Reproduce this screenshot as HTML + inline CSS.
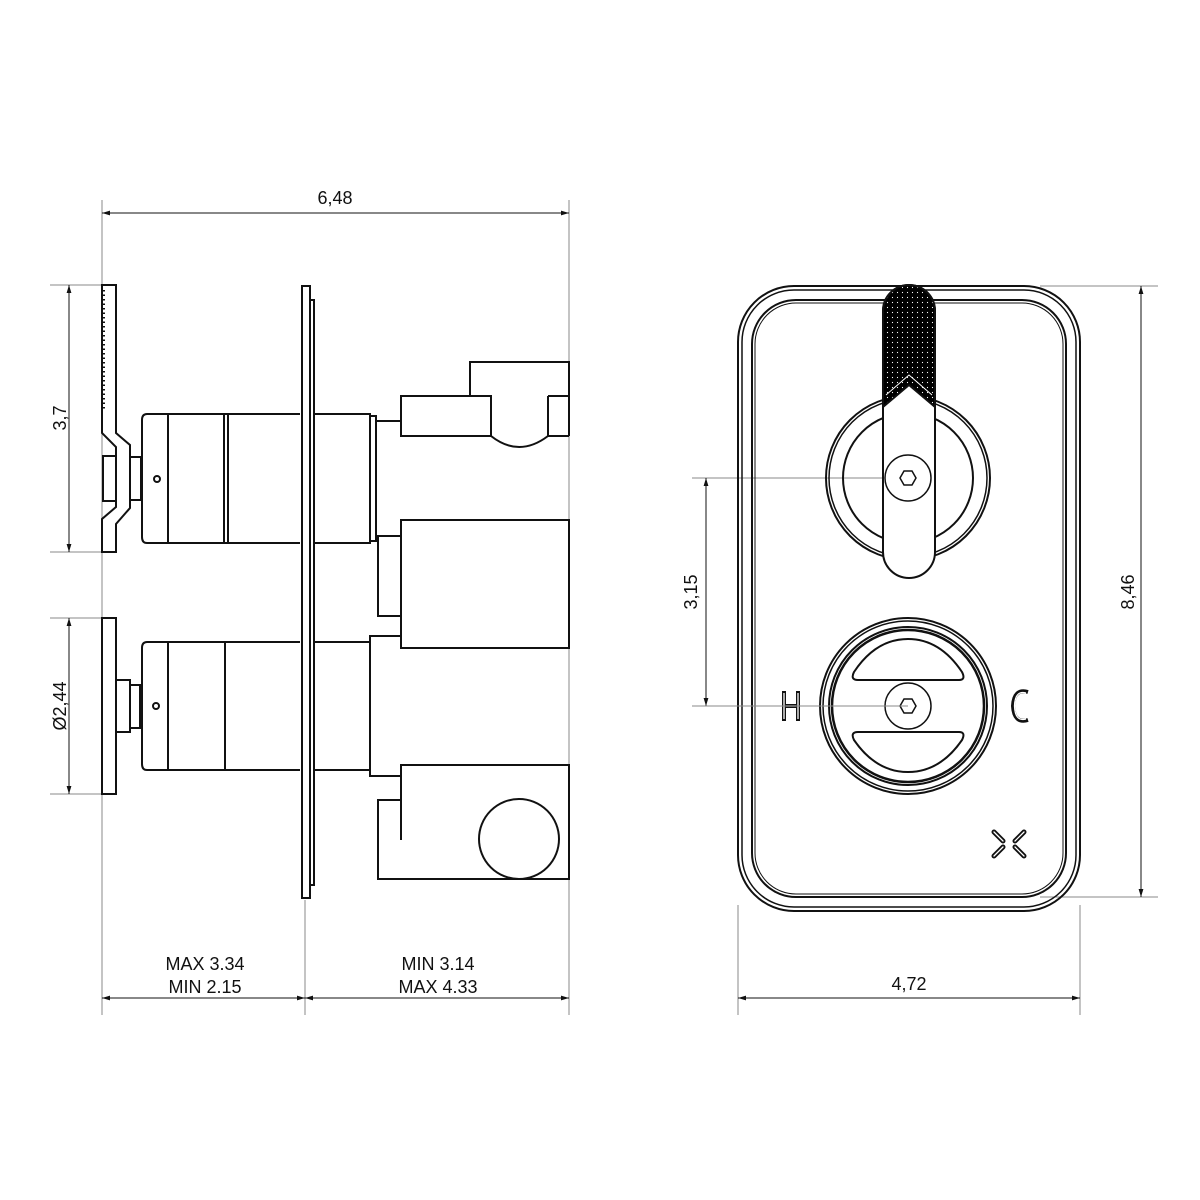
<!DOCTYPE html>
<html><head><meta charset="utf-8"><style>html,body{margin:0;padding:0;background:#fff}svg{display:block}text{font-family:"Liberation Sans","DejaVu Sans",sans-serif;font-size:18px;fill:#111}</style></head>
<body>
<svg width="1200" height="1200" viewBox="0 0 1200 1200" xmlns="http://www.w3.org/2000/svg">
<defs>
<marker id="a" viewBox="0 0 10 10" refX="10" refY="5" markerWidth="10" markerHeight="8" orient="auto-start-reverse" markerUnits="userSpaceOnUse"><path d="M0,2 L10,5 L0,8 z" fill="#111"/></marker>
<pattern id="dots" width="5" height="5" patternUnits="userSpaceOnUse"><rect width="5" height="5" fill="#000"/><circle cx="2.5" cy="2.5" r="0.6" fill="#fff"/></pattern>
</defs>
<g fill="none" stroke="#888" stroke-width="1">
<line x1="102" y1="200" x2="102" y2="1015"/>
<line x1="569" y1="200" x2="569" y2="1015"/>
<line x1="305" y1="900" x2="305" y2="1015"/>
<line x1="50" y1="285" x2="102" y2="285"/><line x1="50" y1="552" x2="102" y2="552"/>
<line x1="50" y1="618" x2="102" y2="618"/><line x1="50" y1="794" x2="102" y2="794"/>
<line x1="738" y1="905" x2="738" y2="1015"/><line x1="1080" y1="905" x2="1080" y2="1015"/>
<line x1="1040" y1="286" x2="1158" y2="286"/><line x1="1040" y1="897" x2="1158" y2="897"/>
<line x1="692" y1="478" x2="908" y2="478"/><line x1="692" y1="706" x2="908" y2="706"/>
</g>
<g stroke="#111" stroke-width="1" fill="none">
<line x1="102" y1="213" x2="569" y2="213" marker-start="url(#a)" marker-end="url(#a)"/>
<line x1="102" y1="998" x2="305" y2="998" marker-start="url(#a)" marker-end="url(#a)"/>
<line x1="305" y1="998" x2="569" y2="998" marker-start="url(#a)" marker-end="url(#a)"/>
<line x1="69" y1="285" x2="69" y2="552" marker-start="url(#a)" marker-end="url(#a)"/>
<line x1="69" y1="618" x2="69" y2="794" marker-start="url(#a)" marker-end="url(#a)"/>
<line x1="738" y1="998" x2="1080" y2="998" marker-start="url(#a)" marker-end="url(#a)"/>
<line x1="1141" y1="286" x2="1141" y2="897" marker-start="url(#a)" marker-end="url(#a)"/>
<line x1="706" y1="478" x2="706" y2="706" marker-start="url(#a)" marker-end="url(#a)"/>
</g>
<text x="335" y="204" text-anchor="middle">6,48</text>
<text x="205" y="970" text-anchor="middle">MAX 3.34</text>
<text x="205" y="993" text-anchor="middle">MIN 2.15</text>
<text x="438" y="970" text-anchor="middle">MIN 3.14</text>
<text x="438" y="993" text-anchor="middle">MAX 4.33</text>
<text x="909" y="990" text-anchor="middle">4,72</text>
<text transform="translate(66,418) rotate(-90)" text-anchor="middle">3,7</text>
<text transform="translate(66,706) rotate(-90)" text-anchor="middle">Ø2,44</text>
<text transform="translate(697,592) rotate(-90)" text-anchor="middle">3,15</text>
<text transform="translate(1134,592) rotate(-90)" text-anchor="middle">8,46</text>

<g stroke="#111" stroke-width="2" fill="none" stroke-linejoin="miter">
<path d="M102,285 L116,285 L116,433 L130,445 L130,508 L116,524 L116,552 L102,552 L102,519 L116,507 L116,447 L102,433 Z"/>
<line x1="104" y1="290" x2="104" y2="410" stroke-dasharray="1.5 3"/>
<rect x="103" y="456" width="13" height="45"/>
<rect x="130" y="457" width="11" height="43"/>
<path d="M300,414 L147,414 Q142,414 142,420 L142,537 Q142,543 147,543 L300,543"/>
<line x1="168" y1="414" x2="168" y2="543"/>
<line x1="224" y1="414" x2="224" y2="543"/><line x1="228" y1="414" x2="228" y2="543"/>
<circle cx="157" cy="479" r="3"/>
<rect x="102" y="618" width="14" height="176"/>
<rect x="116" y="680" width="14" height="52"/>
<rect x="130" y="685" width="10" height="43"/>
<path d="M300,642 L147,642 Q142,642 142,648 L142,764 Q142,770 147,770 L300,770"/>
<line x1="168" y1="642" x2="168" y2="770"/>
<line x1="225" y1="642" x2="225" y2="770"/>
<circle cx="156" cy="706" r="3"/>
<rect x="302" y="286" width="8" height="612"/>
<path d="M310,300 L314,300 L314,885 L310,885"/>
<path d="M314,414 L370,414 L370,543 L314,543"/>
<rect x="370" y="416" width="6" height="125"/>
<line x1="376" y1="421" x2="401" y2="421"/>
<rect x="401" y="396" width="90" height="40"/>
<path d="M470,396 L470,362 L569,362 L569,436"/>
<path d="M548,396 L569,396 M548,396 L548,436 L569,436"/>
<path d="M491,436 Q519,458 548,436"/>
<rect x="401" y="520" width="168" height="128"/>
<path d="M376,536 L378,536 L378,616 L401,616 M378,536 L401,536"/>
<path d="M314,642 L370,642 M314,770 L370,770"/>
<path d="M401,636 L370,636 L370,776 L401,776"/>
<path d="M401,840 L401,765 L569,765 L569,879 L378,879 L378,800 L401,800"/>
<circle cx="519" cy="839" r="40"/>
</g>

<g stroke="#111" fill="none">
<rect x="738" y="286" width="342" height="625" rx="56" stroke-width="2"/>
<rect x="742" y="290" width="334" height="617" rx="52" stroke-width="1.5"/>
<rect x="752" y="300" width="314" height="597" rx="44" stroke-width="2"/>
<rect x="755" y="303" width="308" height="591" rx="41" stroke-width="1"/>
<circle cx="908" cy="478" r="82" stroke-width="2"/>
<circle cx="908" cy="478" r="79" stroke-width="1.5"/>
<circle cx="908" cy="478" r="65" stroke-width="2"/>
</g>
<path d="M883,552 L883,311 A26,26 0 0 1 935,311 L935,552 A26,26 0 0 1 883,552 Z" fill="#fff" stroke="#111" stroke-width="2"/>
<path d="M883,407 L883,311 A26,26 0 0 1 935,311 L935,407 L909,385 Z" fill="url(#dots)" stroke="#111" stroke-width="2"/>
<path d="M886,395 L909,375 L932,395" stroke="#fff" stroke-width="1" fill="none"/>
<g stroke="#111" fill="none" stroke-width="1.5">
<circle cx="908" cy="478" r="23"/>
<polygon points="916,478 912,485 904,485 900,478 904,471 912,471"/>
<circle cx="908" cy="706" r="88" stroke-width="2"/>
<circle cx="908" cy="706" r="85"/>
<circle cx="908" cy="706" r="79" stroke-width="2"/>
<circle cx="908" cy="706" r="76" stroke-width="2.5"/>
<path d="M858,680 L959,680 Q966,680 962,672 Q940,639 908,639 Q876,639 854,672 Q850,680 858,680 Z" stroke-width="2"/>
<path d="M858,732 L959,732 Q966,732 962,740 Q940,772 908,772 Q876,772 854,740 Q850,732 858,732 Z" stroke-width="2"/>
<circle cx="908" cy="706" r="23"/>
<polygon points="916,706 912,713 904,713 900,706 904,699 912,699"/>
<path d="M784,691 L784,721 M798,691 L798,721 M784,706 L798,706" stroke-width="4"/>
<path d="M1028,692 Q1014,688 1013,706 Q1014,724 1028,720" stroke-width="4"/>
<path d="M994,832 L1003,841 M1024,832 L1015,841 M994,856 L1003,847 M1024,856 L1015,847" stroke-width="5" stroke-linecap="round"/>
</g>
<g stroke="#fff" stroke-width="1.3" fill="none">
<path d="M784,693 L784,719 M798,693 L798,719 M786,706 L796,706"/>
<path d="M1026,693 Q1015,690 1014.5,706 Q1015,722 1026,719"/>
<path d="M994,832 L1003,841 M1024,832 L1015,841 M994,856 L1003,847 M1024,856 L1015,847" stroke-linecap="round"/>
</g>
<line x1="692" y1="706" x2="908" y2="706" stroke="#888" stroke-width="1"/>
</svg>
</body></html>
